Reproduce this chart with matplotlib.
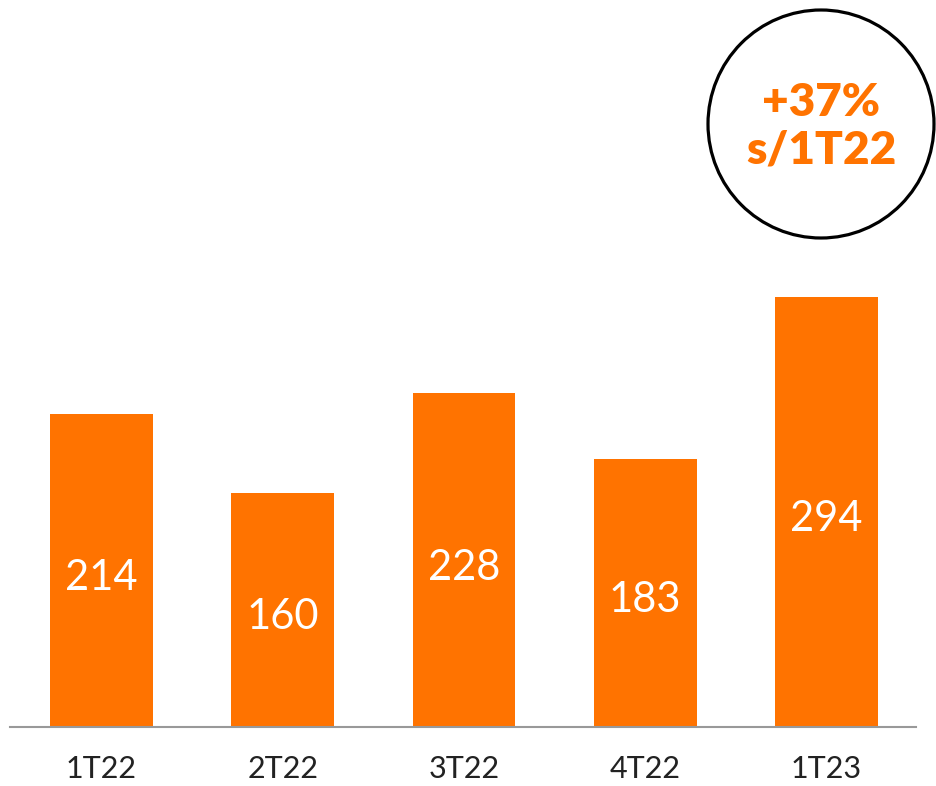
import matplotlib
matplotlib.use("Agg")
import matplotlib.pyplot as plt
from matplotlib.patches import Ellipse

categories = ["1T22", "2T22", "3T22", "4T22", "1T23"]
values = [214, 160, 228, 183, 294]
badge_text = "+37%\ns/1T22"

ORANGE = "#FF7300"
plt.rcParams['font.family'] = ['Lato', 'DejaVu Sans']

fig = plt.figure(figsize=(9.36, 7.86), dpi=100)
ax = fig.add_axes([10/936, 59/786, 906/936, 727/786])
x = list(range(len(categories)))
bars = ax.bar(x, values, width=0.568, color=ORANGE, zorder=2)
ax.set_xlim(-0.505, 4.494)
ax.set_ylim(0, 497)

for xi, v in zip(x, values):
    ax.text(xi, v / 2 - 5, str(v), ha="center", va="center", color="white",
            fontsize=30, fontweight="normal")

for s in ["top", "right", "left"]:
    ax.spines[s].set_visible(False)
ax.spines["bottom"].set_color("#999999")
ax.spines["bottom"].set_linewidth(1.5)
ax.set_yticks([])
ax.set_xticks(x)
ax.set_xticklabels(categories, fontsize=22, color="#222222", fontweight="normal")
ax.tick_params(axis="x", length=0, pad=20)

circ = Ellipse((821/936, 1 - 124/786), 226/936, 228/786, transform=fig.transFigure,
               fill=False, edgecolor="black", linewidth=2.3)
fig.patches.append(circ)
fig.text(821/936, 1 - 126/786, badge_text, ha="center", va="center", color=ORANGE,
         fontsize=33, fontweight="heavy", linespacing=1.2)

fig.savefig("out.png", dpi=100)
